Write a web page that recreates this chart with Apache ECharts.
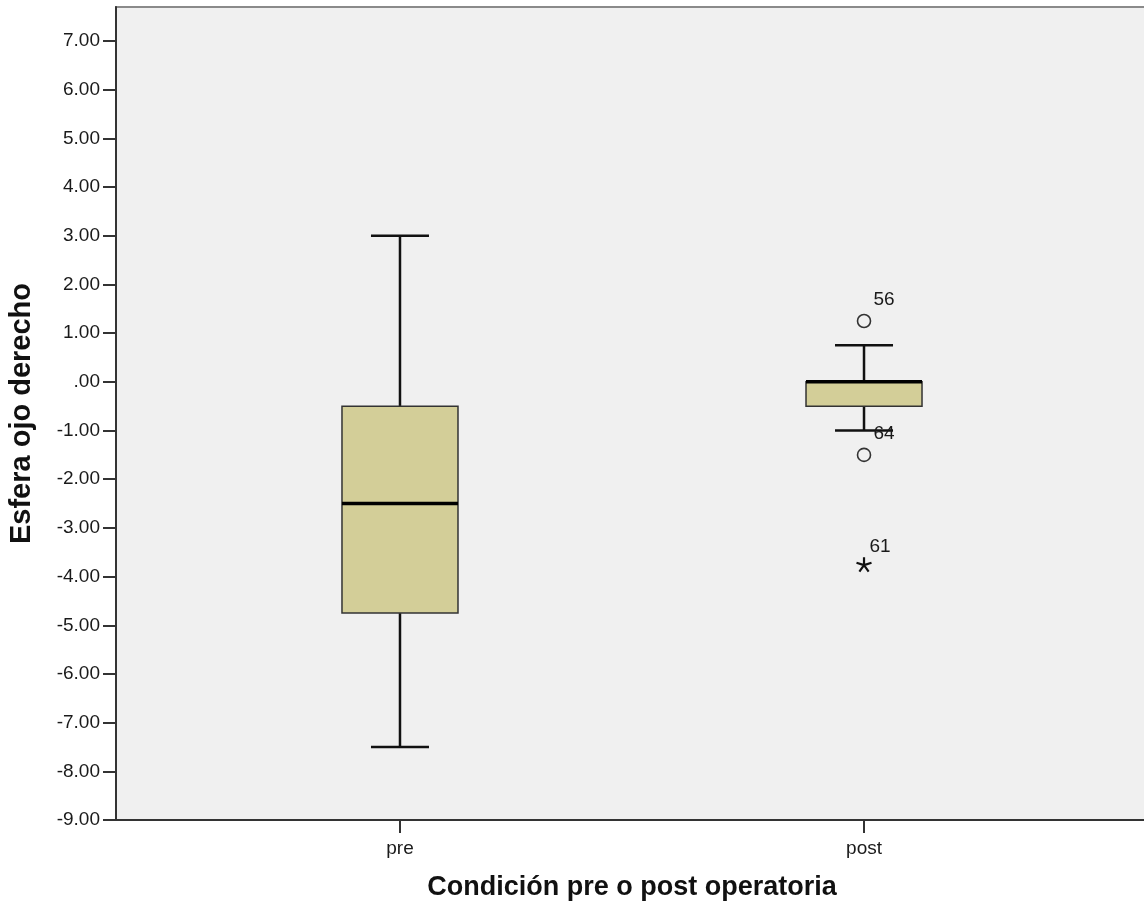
<!DOCTYPE html>
<html>
<head>
<meta charset="utf-8">
<script src="https://cdn.jsdelivr.net/npm/echarts@6/dist/echarts.min.js"></script>
<style>html,body{margin:0;padding:0;background:#fff;overflow:hidden}#c{width:1144px;height:911px}</style>
</head>
<body>
<div id="c"></div>
<script>
// ---- data ----
const categories = ['pre', 'post'];
const whiskerLow = [-7.5, -1.0];
const q1Values = [-4.75, -0.5];
const medianValues = [-2.5, 0.0];
const q3Values = [-0.5, 0.0];
const whiskerHigh = [3.0, 0.75];
const outlierCategory = ['post', 'post', 'post'];
const outlierValues = [1.25, -1.5, -3.75];
const outlierIds = ['56', '64', '61'];
const outlierKinds = ['circle', 'circle', 'extreme'];
const yTickValues = [-9, -8, -7, -6, -5, -4, -3, -2, -1, 0, 1, 2, 3, 4, 5, 6, 7];
const yTitle = 'Esfera ojo derecho';
const xTitle = 'Condición pre o post operatoria';

// ---- build ----
const FONT = 'Liberation Sans, Arial, sans-serif';
const boxData = categories.map((c, i) => [i + 1, whiskerLow[i], q1Values[i], medianValues[i], q3Values[i], whiskerHigh[i]]);
const circleData = [], starData = [];
outlierValues.forEach((v, i) => {
  const item = { value: [categories.indexOf(outlierCategory[i]) + 1, v], name: outlierIds[i] };
  (outlierKinds[i] === 'extreme' ? starData : circleData).push(item);
});
function fmtY(v) {
  if (Math.abs(v - Math.round(v)) > 1e-6) return '';
  let s = Math.abs(v).toFixed(2);
  if (s.startsWith('0')) s = s.slice(1);
  return (v < 0 ? '-' : '') + s;
}
// asterisk path (5 arms)
let star = '';
for (let k = 0; k < 5; k++) {
  const a = (-90 + k * 72) * Math.PI / 180;
  star += 'M0,0 L' + (10 * Math.cos(a)).toFixed(2) + ',' + (10 * Math.sin(a)).toFixed(2) + ' ';
}

const chart = echarts.init(document.getElementById('c'), null, { renderer: 'canvas' });
const outlierLabel = {
  show: true, formatter: p => p.name, position: 'inside', offset: [20, -21],
  color: '#1a1a1a', fontFamily: FONT, fontSize: 19
};
chart.setOption({
  animation: false,
  backgroundColor: '#ffffff',
  grid: { left: 116, top: 7, width: 1032, bottom: 91, outerBoundsMode: 'none', containLabel: false,
          show: true, backgroundColor: '#F0F0F0', borderColor: '#8a8a8a', borderWidth: 2 },
  xAxis: {
    type: 'value', min: 0.388, max: 2.612,
    splitLine: { show: false },
    axisLine: { show: true, onZero: false, lineStyle: { color: '#333', width: 2 } },
    axisTick: { show: true, customValues: [1, 2], length: 13, lineStyle: { color: '#333', width: 2 } },
    axisLabel: { customValues: [1, 2], formatter: v => categories[Math.round(v) - 1] || '', margin: 19, color: '#1a1a1a', fontFamily: FONT, fontSize: 19 },
    name: xTitle, nameLocation: 'middle', nameGap: 54, nameMoveOverlap: false,
    nameTextStyle: { fontFamily: FONT, fontSize: 27, fontWeight: 'bold', color: '#111' }
  },
  yAxis: {
    type: 'value', min: -9, max: 7.7,
    splitLine: { show: false },
    axisLine: { show: true, onZero: false, lineStyle: { color: '#333', width: 2 } },
    axisTick: { show: true, customValues: yTickValues, length: 13, lineStyle: { color: '#333', width: 2 } },
    axisLabel: { customValues: yTickValues, formatter: fmtY, margin: 16, color: '#1a1a1a', fontFamily: FONT, fontSize: 19 },
    name: yTitle, nameLocation: 'middle', nameGap: 80, nameRotate: 90, nameMoveOverlap: false,
    nameTextStyle: { fontFamily: FONT, fontSize: 29, fontWeight: 'bold', color: '#111' }
  },
  series: [
    {
      type: 'custom',
      data: boxData,
      encode: { x: 0, y: [1, 2, 3, 4, 5] },
      renderItem: function (params, api) {
        const x = api.value(0);
        const half = api.size([0.25, 0])[0] / 2;
        const capHalf = half / 2;
        const pLow = api.coord([x, api.value(1)]);
        const pQ1 = api.coord([x, api.value(2)]);
        const pMed = api.coord([x, api.value(3)]);
        const pQ3 = api.coord([x, api.value(4)]);
        const pHigh = api.coord([x, api.value(5)]);
        const cx = pLow[0];
        const ws = { stroke: '#111', lineWidth: 2.5 };
        return {
          type: 'group',
          children: [
            { type: 'line', shape: { x1: cx, y1: pHigh[1], x2: cx, y2: pQ3[1] }, style: ws },
            { type: 'line', shape: { x1: cx, y1: pQ1[1], x2: cx, y2: pLow[1] }, style: ws },
            { type: 'line', shape: { x1: cx - capHalf, y1: pHigh[1], x2: cx + capHalf, y2: pHigh[1] }, style: ws },
            { type: 'line', shape: { x1: cx - capHalf, y1: pLow[1], x2: cx + capHalf, y2: pLow[1] }, style: ws },
            { type: 'rect', shape: { x: cx - half, y: pQ3[1], width: 2 * half, height: pQ1[1] - pQ3[1] },
              style: { fill: '#D3CE98', stroke: '#333', lineWidth: 1.5 } },
            { type: 'line', shape: { x1: cx - half, y1: pMed[1], x2: cx + half, y2: pMed[1] }, style: { stroke: '#000', lineWidth: 3.5 } }
          ]
        };
      },
      z: 2
    },
    {
      type: 'scatter', data: circleData, symbol: 'circle', symbolSize: 13,
      itemStyle: { color: '#F0F0F0', borderColor: '#333', borderWidth: 1.6, opacity: 1 },
      label: outlierLabel, z: 3
    },
    {
      type: 'scatter', data: starData, symbol: 'path://' + star, symbolSize: 15, symbolKeepAspect: true,
      itemStyle: { color: 'none', borderColor: '#111', borderWidth: 2.2, opacity: 1 },
      label: Object.assign({}, outlierLabel, { offset: [16, -18] }), z: 3
    }
  ]
});
</script>
</body>
</html>
